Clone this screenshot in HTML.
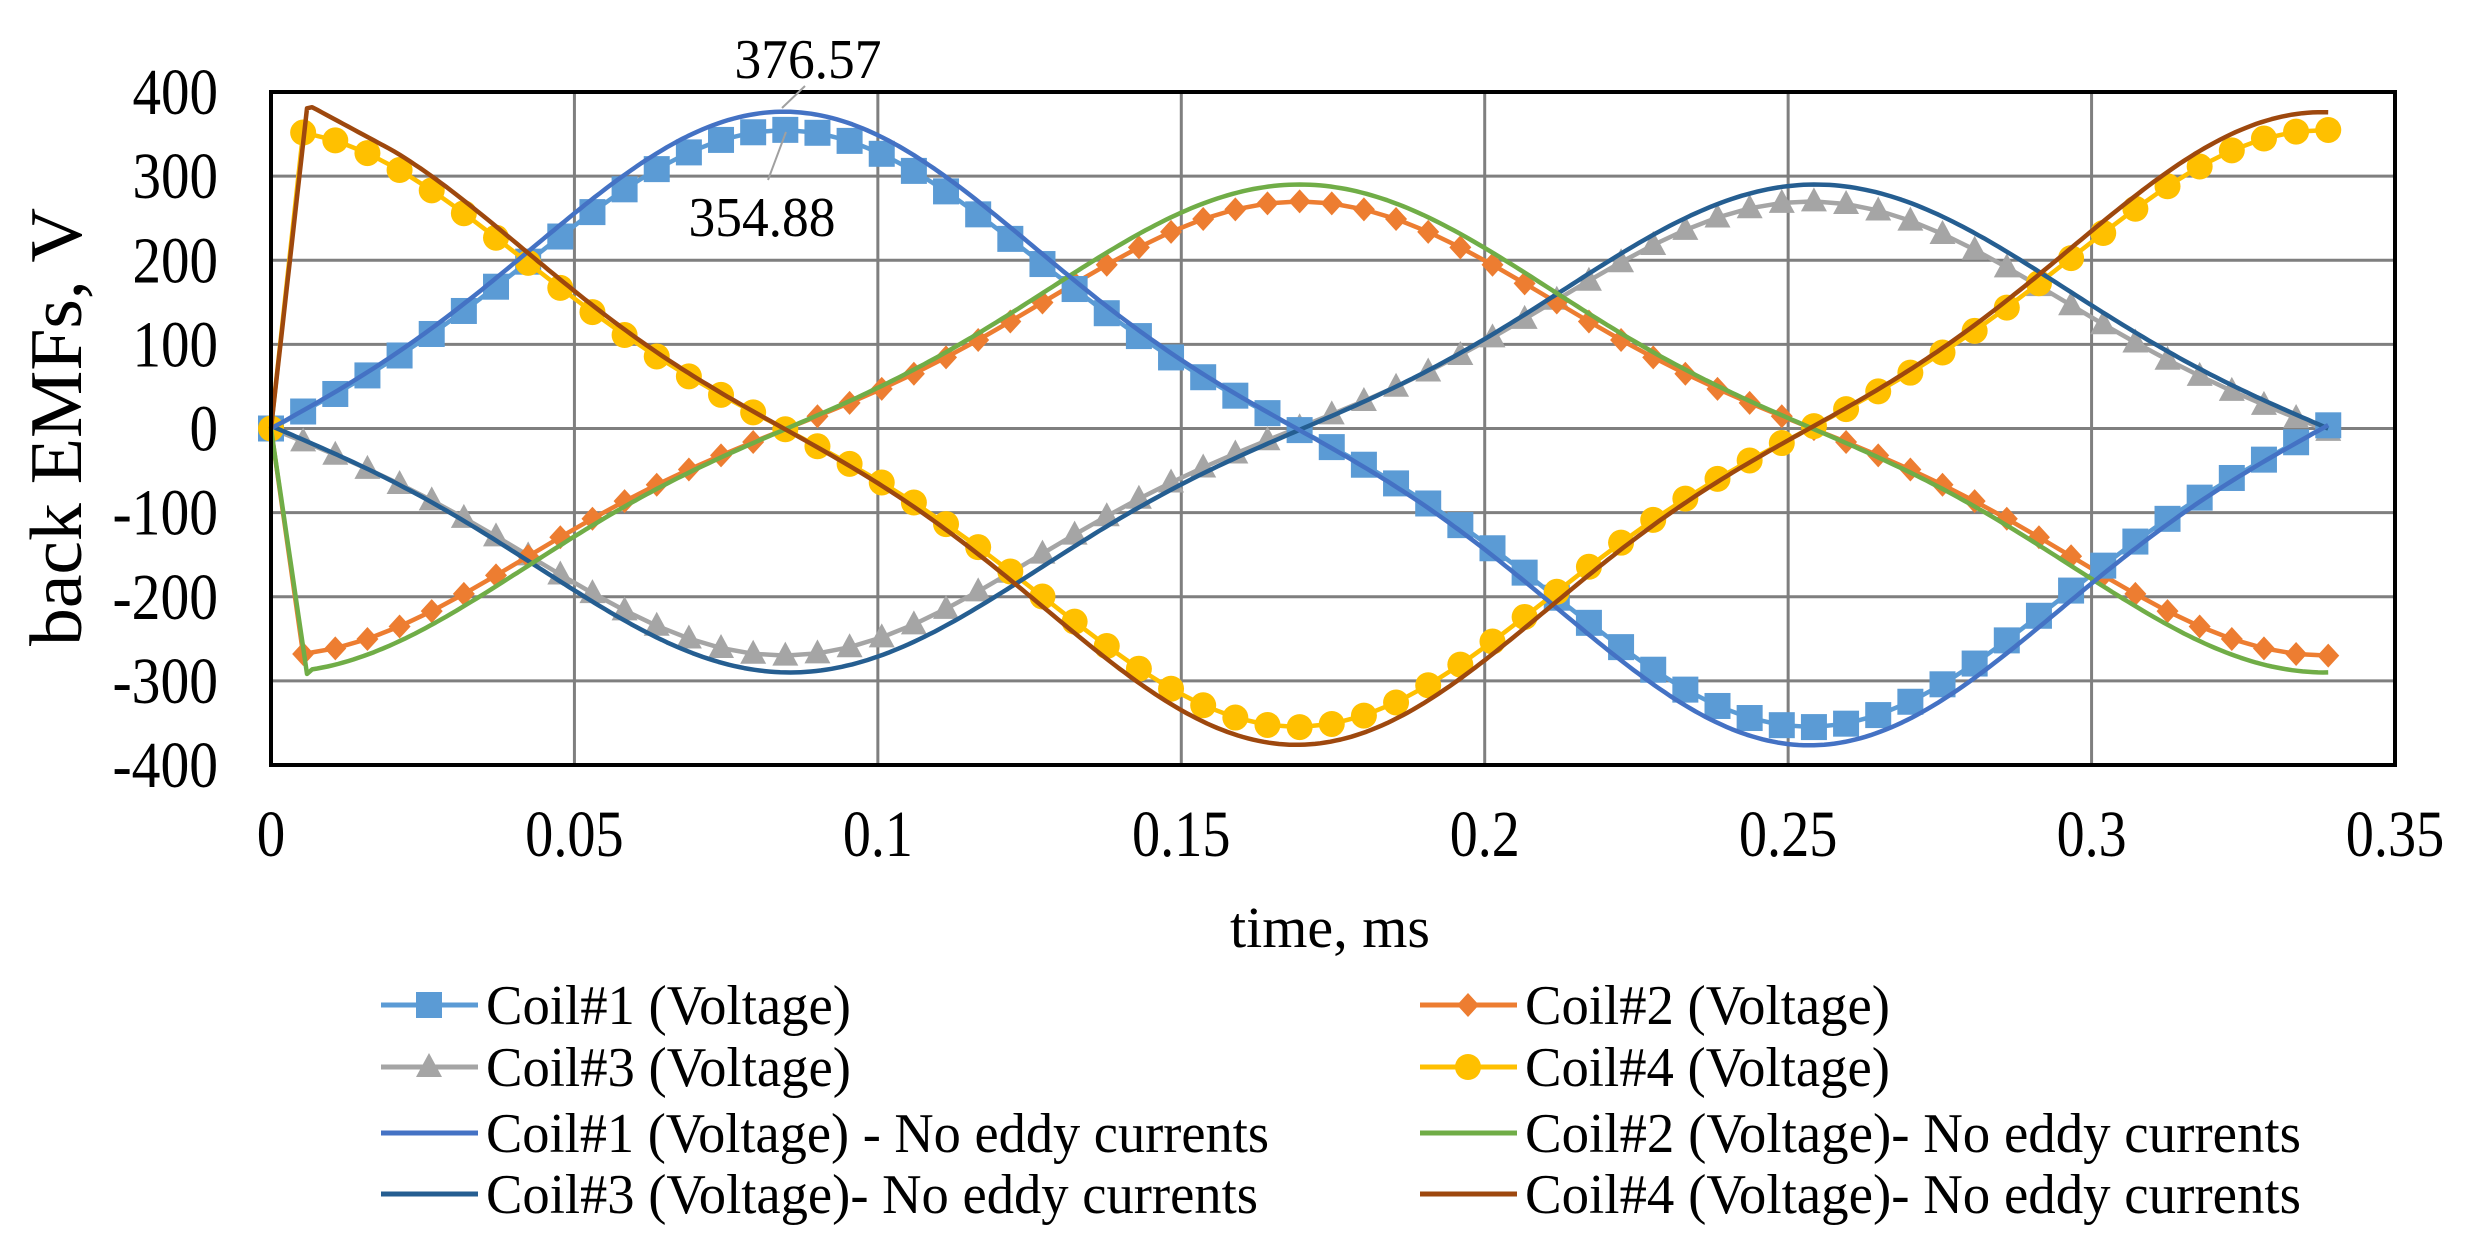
<!DOCTYPE html>
<html><head><meta charset="utf-8"><style>
html,body{margin:0;padding:0;background:#fff;}
svg{display:block;font-family:"Liberation Serif",serif;}
</style></head><body>
<svg id="s" width="2490" height="1242" viewBox="0 0 2490 1242" xmlns="http://www.w3.org/2000/svg">
<rect width="2490" height="1242" fill="#fff"/>
<g id="grid" stroke="#7f7f7f" stroke-width="3"></g>
<g id="series"></g>
<rect x="271" y="92" width="2124" height="673" fill="none" stroke="#000" stroke-width="4"/>
<g id="labels" font-size="66" fill="#000"></g>
<text transform="translate(81,427) rotate(-90)" text-anchor="middle" font-size="74" textLength="438" lengthAdjust="spacingAndGlyphs">back EMFs, V</text>
<text x="1330" y="947" text-anchor="middle" font-size="58" textLength="200" lengthAdjust="spacingAndGlyphs">time, ms</text>
<line x1="805" y1="86" x2="782" y2="108" stroke="#a0a0a0" stroke-width="2"/>
<line x1="768" y1="180" x2="786" y2="132" stroke="#a0a0a0" stroke-width="2"/>
<text x="808" y="78" text-anchor="middle" font-size="56" textLength="147" lengthAdjust="spacingAndGlyphs">376.57</text>
<text x="762" y="236" text-anchor="middle" font-size="56" textLength="147" lengthAdjust="spacingAndGlyphs">354.88</text>
<g id="legend" font-size="56"></g>
</svg>
<script>
const NS="http://www.w3.org/2000/svg";
const X0=271,X1=2395,Y0=92,Y1=765;
const sx=t=>X0+(t/0.35)*(X1-X0);
const sy=v=>Y1-(v+400)/800*(Y1-Y0);
function el(tag,attrs,parent,txt){const e=document.createElementNS(NS,tag);for(const k in attrs)e.setAttribute(k,attrs[k]);if(txt!==undefined)e.textContent=txt;parent.appendChild(e);return e;}
function tlen(s){let w=0;for(const c of s){w+= c==='.'?13:(c==='-'?20:28.5);}return w;}
const grid=document.getElementById('grid'),lab=document.getElementById('labels');
for(let v=-400;v<=400;v+=100){const y=sy(v);if(v>-400&&v<400)el('line',{x1:X0,x2:X1,y1:y,y2:y},grid);
 const s=String(v);el('text',{x:218,y:y+22,'text-anchor':'end',textLength:tlen(s),lengthAdjust:'spacingAndGlyphs'},lab,s);}
const xt=['0','0.05','0.1','0.15','0.2','0.25','0.3','0.35'];
for(let i=0;i<8;i++){const t=i*0.05,x=sx(t);if(i>0&&i<7)el('line',{x1:x,x2:x,y1:Y0,y2:Y1},grid);
 el('text',{x:x,y:856,'text-anchor':'middle',textLength:tlen(xt[i]),lengthAdjust:'spacingAndGlyphs'},lab,xt[i]);}
const P=0.338,w=2*Math.PI/P;
const h=th=>(336*Math.sin(th)-40*Math.sin(3*th))/376;
const f={
 c1:t=>355*h(w*t),
 c1n:t=>376.57*h(w*t),
 c2:t=>t<0.005?-265*t/0.005:270*h(w*(t-0.085)),
 c2n:t=>t<0.006?-295*t/0.006:290*h(w*(t-0.085)),
 c3:t=>-270*h(w*t),
 c3n:t=>-290*h(w*(t-0.001)),
 c4:t=>t<0.005?350*t/0.005:355*h(w*t+Math.PI/2),
 c4n:t=>{const g=u=>376*h(w*u+Math.PI/2);return t<0.006?385*t/0.006:(t<0.02?385-(385-g(0.02))*(t-0.006)/0.014:g(t));},
};
const ser=document.getElementById('series');
function line(fn,col,tmax,n){let d='';for(let i=0;i<=n;i++){const t=tmax*i/n;d+=(i?'L':'M')+sx(t).toFixed(1)+' '+sy(fn(t)).toFixed(1);}
 el('path',{d:d,fill:'none',stroke:col,'stroke-width':4.5,'stroke-linejoin':'round'},ser);}
function marker(g,type,x,y,col){
 if(type==='sq')el('rect',{x:x-13,y:y-13,width:26,height:26,fill:col},g);
 else if(type==='ci')el('circle',{cx:x,cy:y,r:13,fill:col},g);
 else if(type==='di')el('polygon',{points:`${x},${y-12} ${x+11},${y} ${x},${y+12} ${x-11},${y}`,fill:col},g);
 else if(type==='tr')el('polygon',{points:`${x},${y-14} ${x+13},${y+10} ${x-13},${y+10}`,fill:col},g);}
function mseries(fn,col,type){const n=64,tmax=0.339;let d='';const pts=[];
 for(let i=0;i<=n;i++){const t=tmax*i/n;const x=sx(t),y=sy(fn(t));pts.push([x,y]);d+=(i?'L':'M')+x.toFixed(1)+' '+y.toFixed(1);}
 el('path',{d:d,fill:'none',stroke:col,'stroke-width':4.5},ser);
 const g=el('g',{},ser);pts.forEach(p=>marker(g,type,p[0],p[1],col));}
mseries(f.c3,'#A5A5A5','tr');
mseries(f.c2,'#ED7D31','di');
mseries(f.c1,'#5B9BD5','sq');
mseries(f.c4,'#FFC000','ci');
line(f.c3n,'#255E91',0.339,400);
line(f.c2n,'#70AD47',0.339,400);
line(f.c1n,'#4472C4',0.339,400);
line(f.c4n,'#9E480E',0.339,400);
const leg=document.getElementById('legend');
const items=[
 ['Coil#1 (Voltage)','#5B9BD5','sq',0,0,365],['Coil#2 (Voltage)','#ED7D31','di',1,0,365],
 ['Coil#3 (Voltage)','#A5A5A5','tr',0,1,365],['Coil#4 (Voltage)','#FFC000','ci',1,1,365],
 ['Coil#1 (Voltage) - No eddy currents','#4472C4',null,0,2,783],['Coil#2 (Voltage)- No eddy currents','#70AD47',null,1,2,776],
 ['Coil#3 (Voltage)- No eddy currents','#255E91',null,0,3,772],['Coil#4 (Voltage)- No eddy currents','#9E480E',null,1,3,776]];
const rows=[1005,1067,1133,1194];
items.forEach(it=>{const lx=it[3]?1420:381,y=rows[it[4]];
 el('line',{x1:lx,x2:lx+97,y1:y,y2:y,stroke:it[1],'stroke-width':5},leg);
 if(it[2])marker(leg,it[2],lx+48,y,it[1]);
 el('text',{x:lx+105,y:y+19,textLength:it[5],lengthAdjust:'spacingAndGlyphs'},leg,it[0]);});
</script>
</body></html>
